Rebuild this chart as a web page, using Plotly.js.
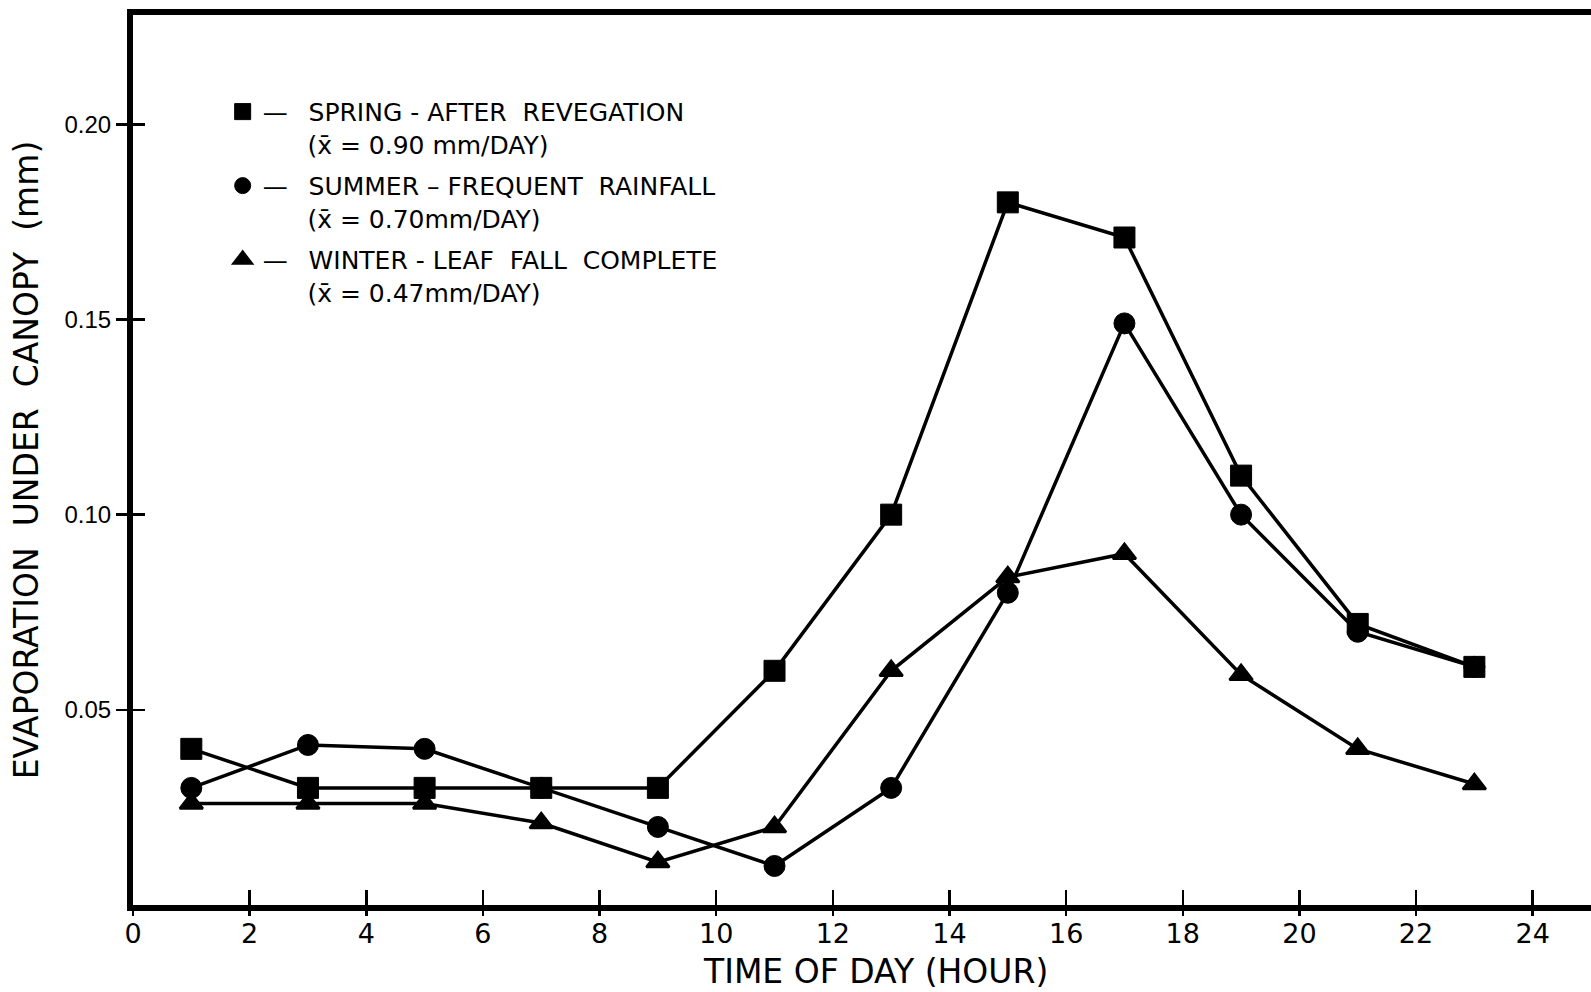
<!DOCTYPE html>
<html>
<head>
<meta charset="utf-8">
<script src="https://cdn.plot.ly/plotly-3.0.1.min.js"></script>
<style>
  html, body { margin: 0; padding: 0; background: #fff; }
  #chart { width: 1591px; height: 992px; }
</style>
</head>
<body>
<div id="chart"></div>
<script>
// Hour of day at which each reading was taken
const hours = [1, 3, 5, 7, 9, 11, 13, 15, 17, 19, 21, 23];

// Evaporation under canopy (mm) for each season
const spring = [0.040, 0.030, 0.030, 0.030, 0.030, 0.060, 0.100, 0.180, 0.171, 0.110, 0.072, 0.061];
const summer = [0.030, 0.041, 0.040, 0.030, 0.020, 0.010, 0.030, 0.080, 0.149, 0.100, 0.070, 0.061];
const winter = [0.026, 0.026, 0.026, 0.021, 0.011, 0.020, 0.060, 0.084, 0.090, 0.059, 0.040, 0.031];

const NB = '\u00a0';
const gap = NB + NB;
const lead = '\u2014' + NB + NB + '\u2009';
const indent = NB.repeat(5) + '\u2009';
const seriesNames = [
  lead + 'SPRING - AFTER' + gap + 'REVEGATION<br>' + indent + '(x\u0304 = 0.90 mm/DAY)',
  lead + 'SUMMER \u2013 FREQUENT' + gap + 'RAINFALL<br>' + indent + '(x\u0304 = 0.70mm/DAY)',
  lead + 'WINTER - LEAF' + gap + 'FALL' + gap + 'COMPLETE<br>' + indent + '(x\u0304 = 0.47mm/DAY)'
];
const seriesSymbols = ['square', 'circle', 'triangle-up'];

const xTicks = [0, 2, 4, 6, 8, 10, 12, 14, 16, 18, 20, 22, 24];
const yTicks = [0.05, 0.10, 0.15, 0.20];
const yTickText = ['0.05', '0.10', '0.15', '0.20'];

const ink = '#000';
const sans = 'Liberation Sans, Arial, sans-serif';
const wide = 'DejaVu Sans, Verdana, sans-serif';
const xRange = [0, 25];
const yRange = [0, 0.228];

// drawn bottom-up: winter, summer, spring
const allSeries = [winter, summer, spring];
const allNames = [seriesNames[2], seriesNames[1], seriesNames[0]];
const allSymbols = [seriesSymbols[2], seriesSymbols[1], seriesSymbols[0]];
const legendRank = [3, 2, 1];

const traces = [];
// connecting lines first, markers on top
allSeries.forEach((vals) => {
  traces.push({
    x: hours, y: vals, type: 'scatter', mode: 'lines',
    line: { color: ink, width: 3.5 },
    showlegend: false, hoverinfo: 'skip'
  });
});
allSeries.forEach((vals, i) => {
  const tri = allSymbols[i] === 'triangle-up';
  traces.push({
    x: hours, y: vals, type: 'scatter', mode: 'markers',
    name: allNames[i],
    legendrank: legendRank[i],
    legendgroup: 'g' + i,
    marker: { symbol: allSymbols[i], size: tri ? 20 : 21, color: ink,
              line: { color: ink, width: tri ? 2.5 : 1 } }
  });
});
// empty traces so the companion tick axes are drawn
traces.push({ x: [], y: [], xaxis: 'x2', yaxis: 'y', type: 'scatter', mode: 'markers', showlegend: false, hoverinfo: 'skip' });
traces.push({ x: [], y: [], xaxis: 'x', yaxis: 'y2', type: 'scatter', mode: 'markers', showlegend: false, hoverinfo: 'skip' });

const layout = {
  width: 1591, height: 992,
  margin: { l: 133, r: 0, t: 15, b: 87 },
  paper_bgcolor: '#fff', plot_bgcolor: '#fff',
  font: { family: sans, color: ink, size: 24 },
  showlegend: true,
  legend: {
    x: 0.0615, y: 0.917, xanchor: 'left', yanchor: 'top',
    bgcolor: 'rgba(0,0,0,0)', borderwidth: 0,
    valign: 'top', itemwidth: 30,
    traceorder: 'grouped', tracegroupgap: 6,
    font: { family: wide, size: 25, color: ink }
  },
  xaxis: {
    range: xRange, tickmode: 'array', tickvals: xTicks,
    ticktext: xTicks.map(String),
    ticks: 'inside', ticklen: 15, tickwidth: 2.5, tickcolor: ink,
    showline: true, linewidth: 6, linecolor: ink, mirror: true,
    showgrid: false, zeroline: false,
    tickfont: { family: wide, size: 27, color: ink }
  },
  xaxis2: {
    overlaying: 'x', anchor: 'y', side: 'bottom', range: xRange,
    tickmode: 'array', tickvals: xTicks, showticklabels: false,
    ticks: 'outside', ticklen: 10, tickwidth: 2.5, tickcolor: ink,
    showline: false, showgrid: false, zeroline: false
  },
  yaxis: {
    range: yRange, tickmode: 'array', tickvals: yTicks, ticktext: yTickText,
    ticks: 'outside', ticklen: 11, tickwidth: 2.5, tickcolor: ink,
    showline: true, linewidth: 6, linecolor: ink, mirror: false,
    showgrid: false, zeroline: false,
    tickfont: { family: sans, size: 24, color: ink },
    title: { text: 'EVAPORATION  UNDER  CANOPY  (mm)', font: { family: wide, size: 33, color: ink }, standoff: 18 }
  },
  yaxis2: {
    overlaying: 'y', anchor: 'x', side: 'left', range: yRange,
    tickmode: 'array', tickvals: yTicks, showticklabels: false,
    ticks: 'inside', ticklen: 12, tickwidth: 2.5, tickcolor: ink,
    showline: false, showgrid: false, zeroline: false
  },
  annotations: [{
    text: 'TIME OF DAY (HOUR)', xref: 'paper', yref: 'paper',
    x: 0.509, y: -0.0742, xanchor: 'center', yanchor: 'middle',
    showarrow: false, borderpad: 0, font: { family: wide, size: 33, color: ink }
  }]
};

Plotly.newPlot('chart', traces, layout, { displayModeBar: false, staticPlot: true });
</script>
</body>
</html>
